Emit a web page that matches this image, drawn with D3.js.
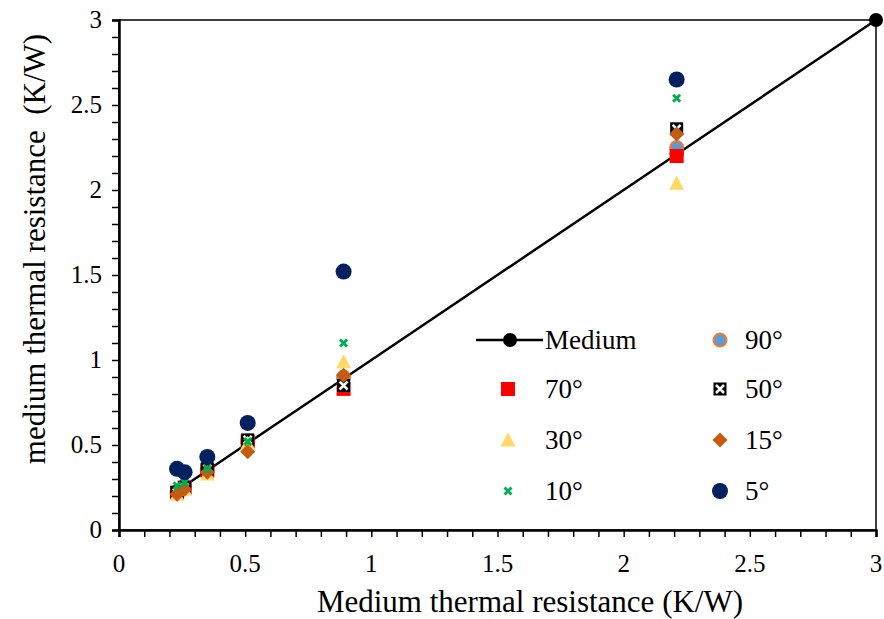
<!DOCTYPE html>
<html><head><meta charset="utf-8">
<script src="https://cdn.jsdelivr.net/npm/d3@7"></script>
<style>body{margin:0;background:#fff;} svg{display:block;} text{font-family:"Liberation Serif",serif;}</style>
</head><body>
<svg id="c" width="884" height="619"></svg>
<script>
const xVals   = [0.23, 0.26, 0.35, 0.51, 0.89, 2.21];
const medium  = [0.23, 0.26, 0.35, 0.51, 0.89, 2.21, 3];
const medX    = [0.23, 0.26, 0.35, 0.51, 0.89, 2.21, 3];
const s90 = [0.22, 0.25, 0.35, 0.52, 0.90, 2.25];
const s70 = [0.22, 0.25, 0.35, 0.52, 0.83, 2.20];
const s50 = [0.22, 0.25, 0.36, 0.53, 0.85, 2.36];
const s30 = [0.21, 0.24, 0.33, 0.51, 0.99, 2.04];
const s15 = [0.21, 0.24, 0.34, 0.46, 0.91, 2.33];
const s10 = [0.26, 0.28, 0.36, 0.52, 1.10, 2.54];
const s5  = [0.36, 0.34, 0.43, 0.63, 1.52, 2.65];
const xTicks = [0, 0.5, 1, 1.5, 2, 2.5, 3];
const yTicks = [0, 0.5, 1, 1.5, 2, 2.5, 3];

const FF = "Liberation Serif";
const svg = d3.select("#c");
const x = d3.scaleLinear().domain([0,3]).range([119,876]);
const y = d3.scaleLinear().domain([0,3]).range([530,20]);

svg.append("rect").attr("x",119).attr("y",20).attr("width",757).attr("height",510)
  .attr("fill","none").attr("stroke","#000").attr("stroke-width",1.5);

const minor = d3.range(0,3.0001,0.1);
const xa = svg.append("g").attr("transform","translate(0,530)")
  .call(d3.axisBottom(x).tickValues(minor).tickSize(7).tickFormat(""));
const ya = svg.append("g").attr("transform","translate(119,0)")
  .call(d3.axisLeft(y).tickValues(minor).tickSize(7).tickFormat(""));
[xa,ya].forEach(a=>{a.select(".domain").attr("stroke","#000").attr("stroke-width",2.5);
  a.selectAll(".tick line").attr("stroke","#000").attr("stroke-width",1.5);});

svg.selectAll(".xl").data(xTicks).enter().append("text")
  .attr("x",d=>x(d)).attr("y",572).attr("text-anchor","middle").attr("font-family",FF)
  .attr("font-size",25).text(d=>d);
svg.selectAll(".yl").data(yTicks).enter().append("text")
  .attr("x",102).attr("y",d=>y(d)+8).attr("text-anchor","end").attr("font-family",FF)
  .attr("font-size",25).text(d=>d);

svg.append("text").attr("x",530).attr("y",612).attr("text-anchor","middle").attr("font-family",FF)
  .attr("font-size",31).text("Medium thermal resistance (K/W)");
svg.append("text").attr("transform","translate(45,249) rotate(-90)").attr("text-anchor","middle")
  .attr("font-family",FF).attr("font-size",31).style("white-space","pre")
  .text("medium thermal resistance  (K/W)");

const M = {
  medium:(g)=>g.append("circle").attr("r",7).attr("fill","#000"),
  s90:(g)=>g.append("circle").attr("r",6.5).attr("fill","#5B9BD5").attr("stroke","#ED7D31").attr("stroke-width",2),
  s70:(g)=>g.append("rect").attr("x",-7).attr("y",-7).attr("width",14).attr("height",14).attr("fill","#FF0000"),
  s50:(g)=>{g.append("rect").attr("x",-6.5).attr("y",-6.5).attr("width",13).attr("height",13).attr("fill","#000");
            g.append("path").attr("d","M-4,-4L4,4M-4,4L4,-4").attr("stroke","#fff").attr("stroke-width",2.5);},
  s30:(g)=>g.append("path").attr("d","M0,-7.5L7.5,6.5L-7.5,6.5Z").attr("fill","#FFD966"),
  s15:(g)=>g.append("path").attr("d","M0,-7.5L7.5,0L0,7.5L-7.5,0Z").attr("fill","#C55A11"),
  s10:(g)=>g.append("path").attr("d","M-3.5,-3.5L3.5,3.5M-3.5,3.5L3.5,-3.5").attr("stroke","#00B050").attr("stroke-width",3),
  s5:(g)=>g.append("circle").attr("r",8).attr("fill","#002060")
};

svg.append("path").datum(medX.map((v,i)=>[v,medium[i]]))
  .attr("d",d3.line().x(d=>x(d[0])).y(d=>y(d[1])))
  .attr("fill","none").attr("stroke","#000").attr("stroke-width",2.5);
medX.forEach((v,i)=>M.medium(svg.append("g").attr("transform",`translate(${x(v)},${y(medium[i])})`)));

const series = [["s90",s90],["s70",s70],["s50",s50],["s30",s30],["s15",s15],["s10",s10],["s5",s5]];
series.forEach(([k,arr])=>{
  arr.forEach((v,i)=>M[k](svg.append("g").attr("transform",`translate(${x(xVals[i])},${y(v)})`)));
});

const leg = [["medium","Medium",510,340],["s90","90°",720,340],["s70","70°",508,389],["s50","50°",720,389],
             ["s30","30°",508,440],["s15","15°",720,440],["s10","10°",508,491],["s5","5°",720,491]];
leg.forEach(([k,t,lx,ly])=>{
  if(k==="medium"){
    svg.append("line").attr("x1",476).attr("x2",543).attr("y1",ly).attr("y2",ly).attr("stroke","#000").attr("stroke-width",2.5);
  }
  M[k](svg.append("g").attr("transform",`translate(${lx},${ly})`));
  svg.append("text").attr("x",k==="medium"?545:(lx<600?545:745)).attr("y",ly+9).attr("font-family",FF)
    .attr("font-size",27).text(t);
});
</script>
</body></html>
